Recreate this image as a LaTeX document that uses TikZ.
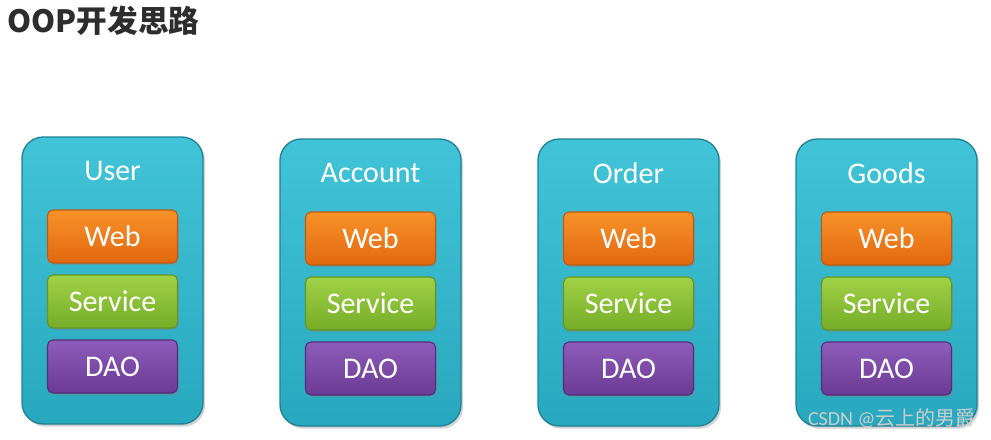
\documentclass[tikz,border=0pt]{standalone}
\usepackage{fontspec}
\setmainfont{Carlito}
\newfontfamily\cjk{Noto Sans CJK SC}
\usetikzlibrary{shadows}

\definecolor{tealtop}{RGB}{66,196,216}
\definecolor{tealbot}{RGB}{40,168,190}
\definecolor{tealline}{RGB}{30,130,150}
\definecolor{webtop}{RGB}{248,146,40}
\definecolor{webbot}{RGB}{226,104,16}
\definecolor{webline}{RGB}{190,90,20}
\definecolor{svctop}{RGB}{160,210,70}
\definecolor{svcbot}{RGB}{118,172,40}
\definecolor{svcline}{RGB}{100,150,35}
\definecolor{daotop}{RGB}{142,92,186}
\definecolor{daobot}{RGB}{106,58,148}
\definecolor{daoline}{RGB}{85,45,120}

\tikzset{every picture/.style={line width=0.75pt}}
\tikzset{
  modbox/.style={rounded corners=16pt, minimum width=135.75pt, minimum height=215.25pt,
    top color=tealtop, bottom color=tealbot, draw=tealline, line width=1pt,
    drop shadow={shadow xshift=1.5pt, shadow yshift=-2pt, opacity=0.35}},
  layerbox/.style={rounded corners=4pt, minimum width=97.5pt, minimum height=39.75pt,
    line width=0.8pt, text=white, font=\fontsize{22.5}{24}\selectfont,
    drop shadow={shadow xshift=1pt, shadow yshift=-1.5pt, opacity=0.4}},
  weblayer/.style={layerbox, top color=webtop, bottom color=webbot, draw=webline},
  svclayer/.style={layerbox, top color=svctop, bottom color=svcbot, draw=svcline},
  daolayer/.style={layerbox, top color=daotop, bottom color=daobot, draw=daoline},
  modlabel/.style={text=white, font=\fontsize{22.5}{24}\selectfont}
}

\begin{document}
\begin{tikzpicture}[x=0.75pt,y=0.75pt,yscale=-1,xscale=1]
\path[use as bounding box] (0,0) rectangle (991,439);

% Title
\node (title) [anchor=west, inner sep=0pt, text={rgb,255:red,45;green,45;blue,45}] at (7,21) {\cjk\bfseries\fontsize{23}{26}\selectfont OOP开发思路};

% Modules
\foreach \i/\mname/\dy in {0/User/0, 1/Account/2, 2/Order/2, 3/Goods/2} {
  \node (mod\i) [modbox] at (112.5+258*\i, 280.5+\dy) {};
  \node (lab\i) [modlabel] at (112.5+258*\i, 171+\dy) {\mname};
  \node (web\i) [weblayer] at (112.5+258*\i, 236.5+\dy) {Web};
  \node (svc\i) [svclayer] at (112.5+258*\i, 301.5+\dy) {Service};
  \node (dao\i) [daolayer] at (112.5+258*\i, 366.5+\dy) {DAO};
}

% Watermark
\node (mark) [anchor=east, inner sep=0pt, text={rgb,255:red,205;green,205;blue,205}] at (976,418) {\fontsize{15}{17}\selectfont CSDN @\cjk 云上的男爵};

\end{tikzpicture}
\end{document}
